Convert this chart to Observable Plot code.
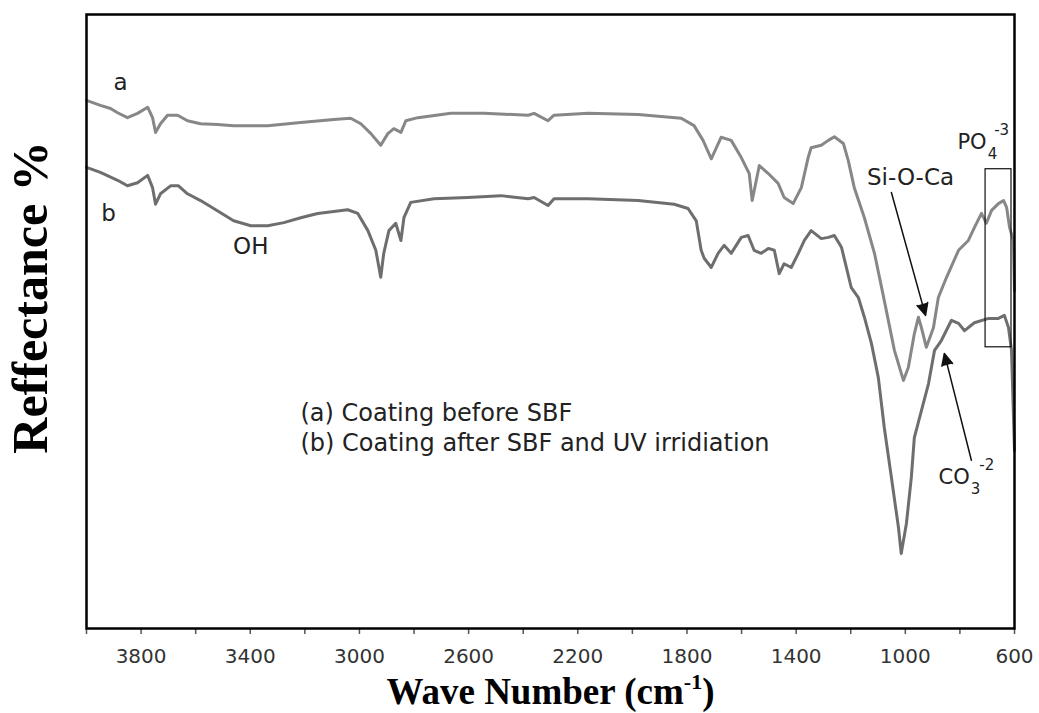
<!DOCTYPE html>
<html><head><meta charset="utf-8">
<script src="https://cdn.jsdelivr.net/npm/d3@7"></script>
<script src="https://cdn.jsdelivr.net/npm/@observablehq/plot@0.6"></script>
<style>body{margin:0;background:#fff} #chart{width:1039px;height:713px}</style>
</head><body><div id="chart"></div>
<script>
// Curve (a): coating before SBF
const wnA = [4000,3949,3912,3886,3850,3813,3776,3758,3747,3729,3703,3666,3630,3582,3520,3461,3336,3215,3094,3032,2995,2958,2922,2896,2874,2848,2830,2786,2665,2544,2382,2360,2309,2287,2162,1979,1821,1774,1741,1711,1675,1638,1601,1572,1561,1535,1502,1466,1444,1411,1381,1356,1345,1308,1282,1260,1227,1209,1187,1150,1113,1077,1040,1007,989,967,952,941,923,897,879,849,805,769,747,721,703,684,659,640,629,618,604,600];
const refA = [86.0,85.2,84.7,84.0,83.2,83.9,84.9,83.2,80.8,82.2,83.6,83.6,82.7,82.2,82.1,81.9,81.9,82.4,82.9,83.1,82.2,80.6,78.7,80.6,81.4,80.8,82.7,83.2,83.9,83.9,83.6,83.9,82.7,83.6,83.9,83.7,83.1,81.9,79.5,76.5,80.0,79.5,76.7,74.1,69.7,75.4,74.1,72.5,70.2,69.2,71.8,76.7,78.3,78.7,79.5,80.1,79.0,76.2,71.8,66.9,61.1,53.4,45.3,40.4,42.5,48.0,50.7,49.0,45.8,49.0,53.9,57.2,61.6,63.2,65.3,67.6,66.0,68.1,69.2,69.7,68.6,65.3,63.2,55.0];
// Curve (b): coating after SBF and UV irradiation
const wnB = [4000,3949,3886,3850,3813,3776,3758,3747,3729,3692,3663,3630,3582,3534,3461,3398,3336,3277,3215,3153,3094,3043,3006,2969,2940,2922,2911,2892,2867,2848,2837,2812,2727,2603,2482,2382,2360,2309,2287,2162,1979,1847,1796,1766,1748,1737,1711,1686,1664,1638,1601,1576,1554,1528,1502,1480,1462,1444,1418,1392,1370,1345,1308,1282,1260,1234,1216,1198,1172,1150,1124,1099,1077,1051,1025,1015,996,978,967,941,915,893,868,831,805,783,747,695,659,637,622,611,600];
const refB = [75.1,74.3,73.0,72.1,72.6,73.8,71.8,69.1,70.8,72.1,72.1,70.8,69.7,68.4,66.4,65.6,65.6,66.1,66.9,67.6,67.9,68.2,67.6,64.8,61.6,57.2,61.1,64.8,66.0,63.2,66.9,69.4,70.0,70.2,70.5,70.0,70.2,68.9,70.0,70.0,69.7,69.1,68.4,66.4,61.6,60.3,58.8,61.1,62.4,61.1,63.7,64.0,61.6,61.1,61.9,61.6,57.8,59.4,58.8,61.1,63.2,64.8,63.5,63.7,64.0,62.1,58.8,55.5,53.9,50.7,46.4,40.9,32.7,24.6,16.4,12.2,17.1,24.6,31.1,35.5,39.9,45.3,46.9,50.2,49.7,48.5,49.8,50.5,50.5,51.0,49.0,45.3,29.0];

const minorTicks = [4000,3800,3600,3400,3200,3000,2800,2600,2400,2200,2000,1800,1600,1400,1200,1000,800,600];
const tickLabels = [3800,3400,3000,2600,2200,1800,1400,1000,600];

const curveLabelText = ["a","b","OH","Si-O-Ca"];
const curveLabelX = [3875,3919,3398,981];
const curveLabelY = [88.9,67.6,62.2,73.5];

const legendText = ["(a) Coating before SBF","(b) Coating after SBF and UV irridiation"];
const legendX = [3216,3216];
const legendY = [35.0,30.1];

const ionText = ["PO4-3","CO3-2"];
const ionX = [809,878];
const ionY = [79.2,24.6];

const arrowX1 = [1051,758], arrowY1 = [71.0,27.4], arrowX2 = [926,857], arrowY2 = [51.0,44.8];
const boxX1 = [706], boxX2 = [611], boxY1 = [45.8], boxY2 = [74.8];

const serieA = wnA.map((w,i)=>({wn:w, r:refA[i]}));
const serieB = wnB.map((w,i)=>({wn:w, r:refB[i]}));
const labels = curveLabelText.map((t,i)=>({t, x:curveLabelX[i], y:curveLabelY[i]}));
const legend = legendText.map((t,i)=>({t, x:legendX[i], y:legendY[i]}));
const ions = ionText.map((t,i)=>({t, x:ionX[i], y:ionY[i]}));
const arrows = arrowX1.map((d,i)=>({x1:d, y1:arrowY1[i], x2:arrowX2[i], y2:arrowY2[i]}));
const boxes = boxX1.map((d,i)=>({x1:d, x2:boxX2[i], y1:boxY1[i], y2:boxY2[i]}));

const sans = "DejaVu Sans";
const plot = Plot.plot({
  width: 1039, height: 713,
  marginLeft: 86, marginRight: 25, marginTop: 14, marginBottom: 85,
  x: {domain: [4000, 600], axis: null},
  y: {domain: [0, 100], axis: null},
  style: {background: "#fff"},
  marks: [
    Plot.line(serieA, {x: "wn", y: "r", stroke: "#878787", strokeWidth: 3, strokeLinejoin: "round"}),
    Plot.line(serieB, {x: "wn", y: "r", stroke: "#6e6e6e", strokeWidth: 3, strokeLinejoin: "round"}),
    Plot.rect(boxes, {x1: "x1", x2: "x2", y1: "y1", y2: "y2", fill: "none", stroke: "#111", strokeWidth: 1.2}),
    Plot.arrow(arrows, {x1: "x1", y1: "y1", x2: "x2", y2: "y2", stroke: "#111", strokeWidth: 1.5, headLength: 13, headAngle: 50}),
    Plot.text(labels, {x: "x", y: "y", text: "t", fontFamily: sans, fontSize: 23, fill: "#222"}),
    Plot.text(legend, {x: "x", y: "y", text: "t", textAnchor: "start", fontFamily: sans, fontSize: 24, fill: "#222"}),
    Plot.text(ions, {x: "x", y: "y", text: "t", textAnchor: "start", fontFamily: sans, fontSize: 21, fill: "#222"}),
    Plot.axisX(minorTicks, {tickSize: 6, tickFormat: () => "", stroke: "#555", strokeWidth: 1.5}),
    Plot.axisX(tickLabels, {tickSize: 0, tickPadding: 20, fontSize: 20, fontFamily: sans, fill: "#333", tickFormat: d => String(d)}),
    Plot.frame({stroke: "#000", strokeWidth: 2.5}),
    Plot.text(["Reffectance %"], {frameAnchor: "left", textAnchor: "middle", lineAnchor: "middle", rotate: -90, dx: -56, dy: -24, fontFamily: "Liberation Serif", fontWeight: "bold", fontSize: 50, fill: "#000"}),
    Plot.text(["Wave Number (cm-1)"], {frameAnchor: "bottom", textAnchor: "middle", lineAnchor: "middle", dy: 64, fontFamily: "Liberation Serif", fontWeight: "bold", fontSize: 37, fill: "#000"})
  ]
});
document.getElementById("chart").appendChild(plot);

// filled arrowheads
d3.select(plot).selectAll("g[aria-label=arrow] path").attr("fill", "#111");

function rich(match, parts) {
  d3.select(plot).selectAll("text").filter(function(){ return this.textContent === match; }).each(function(){
    const t = d3.select(this);
    t.text(null);
    for (const p of parts) {
      const s = t.append("tspan").text(p.text);
      if (p.dx) s.attr("dx", p.dx);
      if (p.dy) s.attr("dy", p.dy);
      if (p.size) s.attr("font-size", p.size);
    }
  });
}
rich("PO4-3", [{text: "PO"}, {text: "4", dx: 1, dy: 10, size: 15}, {text: "-3", dx: -3, dy: -24, size: 15}]);
rich("CO3-2", [{text: "CO"}, {text: "3", dx: 1, dy: 10, size: 15}, {text: "-2", dx: -1, dy: -24, size: 15}]);
rich("Wave Number (cm-1)", [{text: "Wave Number (cm"}, {text: "-1", dy: -15, size: 22}, {text: ")", dy: 15}]);
</script>
</body></html>
